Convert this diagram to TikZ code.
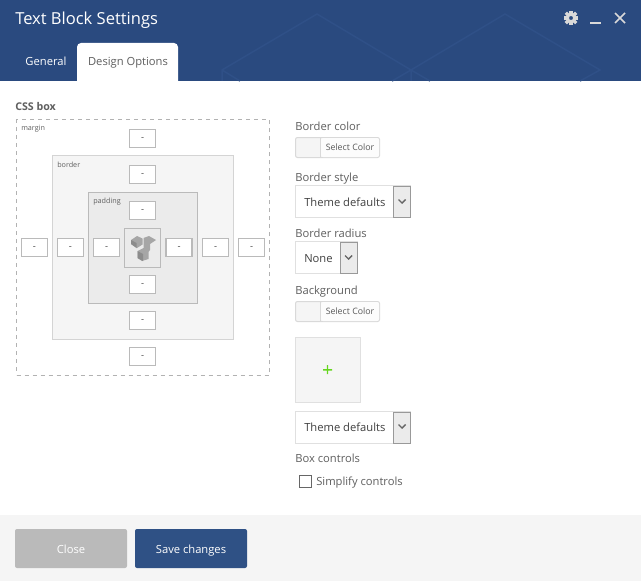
\documentclass[tikz,border=0pt]{standalone}
\usepackage{fontspec}
\setmainfont{Open Sans}
\usetikzlibrary{positioning}
\def\px{0.75pt}
\definecolor{headBlue}{HTML}{2A4A7F}
\definecolor{headLine}{HTML}{2F5087}
\definecolor{saveBlue}{HTML}{2F5185}
\definecolor{textGrey}{HTML}{5F5F5F}
\definecolor{plusGreen}{HTML}{66D61E}
\tikzset{%
  % Specifications for style of nodes:
        base/.style = {rectangle, inner sep=0pt, outer sep=0pt, anchor=north west},
      caption/.style = {inner sep=0pt, anchor=base west, text=textGrey, font=\fontsize{8.4pt}{10pt}\selectfont},
     boxLabel/.style = {inner sep=0pt, anchor=base west, text=textGrey, font=\fontsize{5.4pt}{6pt}\selectfont},
     valueBox/.style = {rectangle, inner sep=0pt, outer sep=0pt, draw=black!27, line width=1.2*\px, fill=white,
                        minimum width=26*\px, minimum height=18*\px},
    colorPick/.style = {base, rounded corners=2*\px, draw=black!15, line width=\px, fill=black!4,
                        minimum width=84*\px, minimum height=20*\px},
   selectBody/.style = {base, draw=black!12, line width=\px, fill=white, minimum height=32*\px},
    selectTab/.style = {base, draw=black!40, line width=\px, fill=black!8,
                        minimum width=17*\px, minimum height=31*\px},
    selectTxt/.style = {inner sep=0pt, anchor=base west, text=black!75, font=\fontsize{8.4pt}{10pt}\selectfont},
     pickTxt/.style = {inner sep=0pt, anchor=base, text=black!65, font=\fontsize{6.6pt}{8pt}\selectfont},
      chevron/.style = {draw=black!60, line width=1.4*\px},
     logoFace/.style = {fill=black!35, draw=none},
     logoDark/.style = {fill=black!45, draw=none},
     footBtn/.style = {base, rounded corners=2*\px, minimum width=112*\px, minimum height=39*\px},
     footTxt/.style = {inner sep=0pt, anchor=base, text=white, font=\fontsize{8.4pt}{10pt}\selectfont},
}
\begin{document}
\begin{tikzpicture}[x=\px, y=-\px]
  \useasboundingbox (0,0) rectangle (641,581);
  \fill[white] (0,0) rectangle (641,581);
  % header band with its faint pattern
  \fill[headBlue] (0,0) rectangle (641,81);
  \draw[headLine, line width=1.5*\px] (222,81) -- (222,70) -- (317,14) -- (411,70) -- (430,81)
    (392,81) -- (411,70) -- (505,14) -- (600,70) -- (580,81) (411,70) -- (411,81) (222,70) -- (240,81);
  \node (title) [inner sep=0pt, anchor=base west, text=white, font=\fontsize{12.4pt}{16pt}\selectfont] at (15,25) {Text Block Settings};
  % window icons
  \foreach \a in {0,45,...,315}
    \draw[black!15, line width=3.2*\px] (571,18) ++(\a:4.5) -- ++(\a:2.8);
  \draw[black!15, line width=3.2*\px] (571,18) circle (3.8);
  \draw[black!15, line width=1.6*\px] (590,23) -- (601,23);
  \draw[black!15, line width=1.7*\px] (615,13) -- (625,23) (625,13) -- (615,23);
  % tabs
  \node (tabGeneral) [inner sep=0pt, anchor=base, text=white, font=\fontsize{8.4pt}{10pt}\selectfont] at (46,66) {General};
  \fill[white, rounded corners=4*\px] (77,90) -- (77,43) -- (178,43) -- (178,90) -- cycle;
  \node (tabDesign) [inner sep=0pt, anchor=base, text=textGrey, font=\fontsize{8.4pt}{10pt}\selectfont] at (128,66) {Design Options};
  % css box
  \node (cssLabel) [caption, font=\fontsize{8pt}{10pt}\selectfont\bfseries] at (15,111) {CSS box};
  \node (marginBox) [base, draw=black!30, dashed, line width=\px, minimum width=253*\px, minimum height=255*\px] at (16.5,120) {};
  \node (borderBox) [base, draw=black!17, line width=\px, fill=black!4, minimum width=181*\px, minimum height=184*\px] at (52.5,155) {};
  \node (paddingBox) [base, draw=black!27, line width=\px, fill=black!8, minimum width=109*\px, minimum height=111*\px] at (88.5,192) {};
  \node (logoBox) [base, draw=black!27, line width=\px, minimum width=36*\px, minimum height=39*\px] at (124.5,228.5) {};
  \node (marginLabel) [boxLabel] at (21,131) {margin};
  \node (borderLabel) [boxLabel] at (57,167) {border};
  \node (paddingLabel) [boxLabel] at (93,203) {padding};
  % logo
  \fill[logoFace] (131,240) -- (137,236) -- (142.5,238.5) -- (142.5,244.5) -- (137,248) -- (131,244) -- cycle;
  \fill[logoDark] (131,240) -- (136.5,243) -- (136.5,248) -- (131,244) -- cycle;
  \fill[logoFace] (143.5,238) -- (149,236) -- (156,240) -- (150,244) -- (150,250) -- (148.5,252) -- (148.5,259)
    -- (142,261) -- (137.5,258) -- (137.5,251) -- (143.5,248) -- cycle;
  \fill[logoDark] (137.5,251) -- (143,254) -- (143,261) -- (137.5,258) -- cycle;
  % value boxes
  \node (marginTop)     [valueBox] at (142.5,138.5) {};
  \node (borderTop)     [valueBox] at (142.5,174.5) {};
  \node (paddingTop)    [valueBox] at (142.5,210.5) {};
  \node (paddingBottom) [valueBox] at (142.5,284.5) {};
  \node (borderBottom)  [valueBox] at (142.5,320.5) {};
  \node (marginBottom)  [valueBox] at (142.5,356.5) {};
  \node (marginLeft)    [valueBox] at (34.5,247.5) {};
  \node (borderLeft)    [valueBox] at (70.5,247.5) {};
  \node (paddingLeft)   [valueBox] at (106.5,247.5) {};
  \node (paddingRight)  [valueBox] at (179,247.5) {};
  \node (borderRight)   [valueBox] at (215.5,247.5) {};
  \node (marginRight)   [valueBox] at (251.5,247.5) {};
  % the dash in each box is real text
  \foreach \boxname in {marginTop,borderTop,paddingTop,paddingBottom,borderBottom,marginBottom,
      marginLeft,borderLeft,paddingLeft,paddingRight,borderRight,marginRight}
    \node [inner sep=0pt, yshift=-1*\px, text=black!70, font=\fontsize{7pt}{8pt}\selectfont] at (\boxname) {-};
  % border options
  \node (borderColor) [caption] at (295,130) {Border color};
  \node (pickBorder) [colorPick] at (295.5,137.5) {};
  \fill[black!1, rounded corners=2*\px] (321,138) rectangle (379,157);
  \draw[black!15, line width=\px] (320.5,137.5) -- (320.5,157.5);
  \node (pickBorderTxt) [pickTxt] at (350,150) {Select Color};
  \node (borderStyle) [caption] at (295,181) {Border style};
  \node (selStyle) [selectBody, minimum width=115*\px] at (295.5,185.5) {};
  \node (selStyleTab) [selectTab] at (393.5,186) {};
  \draw[chevron] (398.5,199.5) -- (402,203) -- (405.5,199.5);
  \node (selStyleTxt) [selectTxt] at (304,206) {Theme defaults};
  \node (borderRadius) [caption] at (295,237) {Border radius};
  \node (selRadius) [selectBody, minimum width=62*\px] at (295.5,241.5) {};
  \node (selRadiusTab) [selectTab] at (340.5,242) {};
  \draw[chevron] (345,255.5) -- (348.5,259) -- (352,255.5);
  \node (selRadiusTxt) [selectTxt] at (304,262) {None};
  % background options
  \node (background) [caption] at (295,294) {Background};
  \node (pickBack) [colorPick] at (295.5,301.5) {};
  \fill[black!1, rounded corners=2*\px] (321,302) rectangle (379,321);
  \draw[black!15, line width=\px] (320.5,301.5) -- (320.5,321.5);
  \node (pickBackTxt) [pickTxt] at (350,314) {Select Color};
  \node (imageBox) [base, draw=black!12, line width=\px, fill=black!4, minimum width=65*\px, minimum height=65*\px] at (295.5,337.5) {};
  \fill[plusGreen] (323,369) rectangle (332,370.5) (326.8,365) rectangle (328.2,374);
  \node (selBack) [selectBody, minimum width=115*\px] at (295.5,411.5) {};
  \node (selBackTab) [selectTab] at (393.5,412) {};
  \draw[chevron] (398.5,424.5) -- (402,428) -- (405.5,424.5);
  \node (selBackTxt) [selectTxt] at (304,431) {Theme defaults};
  \node (boxControls) [caption] at (295,462) {Box controls};
  \node (checkBox) [base, draw=black!60, line width=\px, minimum width=12*\px, minimum height=12*\px] at (299.5,475.5) {};
  \node (simplify) [caption] at (316,485) {Simplify controls};
  % footer
  \fill[black!4] (0,515) rectangle (641,581);
  \node (closeBtn) [footBtn, fill=black!27] at (15,529) {};
  \node (saveBtn) [footBtn, fill=saveBlue] at (135,529) {};
  \node (closeTxt) [footTxt] at (71,553) {Close};
  \node (saveTxt) [footTxt] at (191,553) {Save changes};
\end{tikzpicture}
\end{document}
